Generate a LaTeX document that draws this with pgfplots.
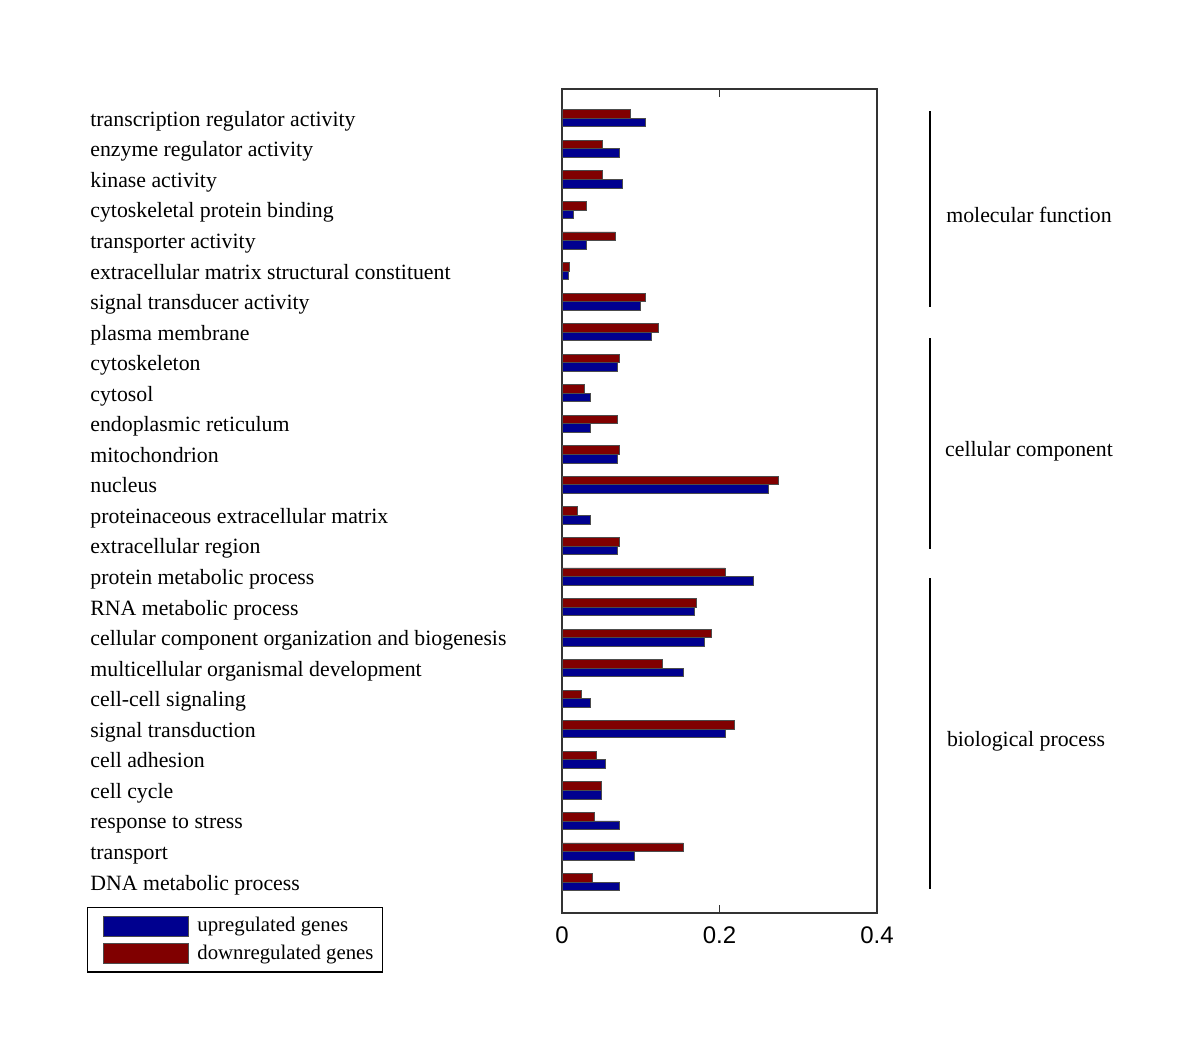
\documentclass[border=0pt]{standalone}
\usepackage{fontspec}
\setmainfont{Liberation Serif}
\newfontfamily\ticksans{Liberation Sans}
\usepackage{pgfplots}
\usepackage{pgfplotstable}
\pgfplotsset{compat=1.18}
\definecolor{upblue}{rgb}{0,0,0.5625}
\definecolor{downred}{rgb}{0.5,0,0}

\pgfplotstableread{
idx up down
0 0.0723 0.0385
1 0.0918 0.1540
2 0.0723 0.0406
3 0.0503 0.0503
4 0.0554 0.0431
5 0.2072 0.2190
6 0.0360 0.0241
7 0.1540 0.1277
8 0.1806 0.1903
9 0.1683 0.1708
10 0.2431 0.2072
11 0.0698 0.0723
12 0.0360 0.0195
13 0.2622 0.2744
14 0.0698 0.0723
15 0.0360 0.0698
16 0.0360 0.0288
17 0.0698 0.0723
18 0.1133 0.1226
19 0.0990 0.1060
20 0.0076 0.0097
21 0.0313 0.0677
22 0.0144 0.0313
23 0.0770 0.0508
24 0.0723 0.0508
25 0.1060 0.0867
}\datatable

\begin{document}
\begin{tikzpicture}
\begin{axis}[
  at={(281pt,-456.5pt)}, anchor=south west,
  scale only axis, width=157.5pt, height=412pt,
  xbar, bar width=0.28,
  xmin=0, xmax=0.4, ymin=-1.015, ymax=25.96,
  axis line style={black!80, line width=0.6pt},
  xtick={0,0.2,0.4},
  tick align=inside, major tick length=4pt,
  xtick style={black!80, line width=0.6pt},
  ytick={0,...,25},
  ytick style={draw=none},
  yticklabels={DNA metabolic process, transport, response to stress, cell cycle, cell adhesion, signal transduction, cell-cell signaling, multicellular organismal development, cellular component organization and biogenesis, RNA metabolic process, protein metabolic process, extracellular region, proteinaceous extracellular matrix, nucleus, mitochondrion, endoplasmic reticulum, cytosol, cytoskeleton, plasma membrane, signal transducer activity, extracellular matrix structural constituent, transporter activity, cytoskeletal protein binding, kinase activity, enzyme regulator activity, transcription regulator activity},
  yticklabel style={anchor=base west, inner sep=0pt, xshift=-236pt, yshift=-4pt, font=\fontsize{10.9}{12}\selectfont},
  xticklabel style={font=\ticksans\fontsize{12}{12}\selectfont, yshift=-3.5pt},
  /pgf/number format/assume math mode=true,
  legend style={at={(-1.508,0.0073)}, anchor=north west, draw=black, line width=0.6pt,
    font=\fontsize{10.4}{12}\selectfont, row sep=1.2pt, inner xsep=2.5pt, inner ysep=2.8pt},
  legend cell align=left,
  legend image code/.code={\draw[#1, line width=0.4pt] (5pt,-5pt) rectangle (47.5pt,5pt); \path (0pt,0pt) (50pt,0pt);},
]
\addplot[fill=upblue, draw=black!70, line width=0.4pt, bar shift=-0.14] table[x=up, y=idx] {\datatable};
\addlegendentry{upregulated genes}
\addplot[fill=downred, draw=black!70, line width=0.4pt, bar shift=0.14] table[x=down, y=idx] {\datatable};
\addlegendentry{downregulated genes}
\end{axis}
\draw[line width=1pt] (465pt,-55.5pt) -- (465pt,-153.5pt);
\draw[line width=1pt] (465pt,-169pt) -- (465pt,-274.5pt);
\draw[line width=1pt] (465pt,-289pt) -- (465pt,-444.5pt);
\node[font=\fontsize{10.9}{12}\selectfont] at (514.5pt,-107.5pt) {molecular function};
\node[font=\fontsize{10.9}{12}\selectfont] at (514.5pt,-225.5pt) {cellular component};
\node[font=\fontsize{10.9}{12}\selectfont] at (513pt,-370.5pt) {biological process};
\pgfresetboundingbox
\path (0,0) rectangle (600pt,-525.5pt);
\end{tikzpicture}
\end{document}
